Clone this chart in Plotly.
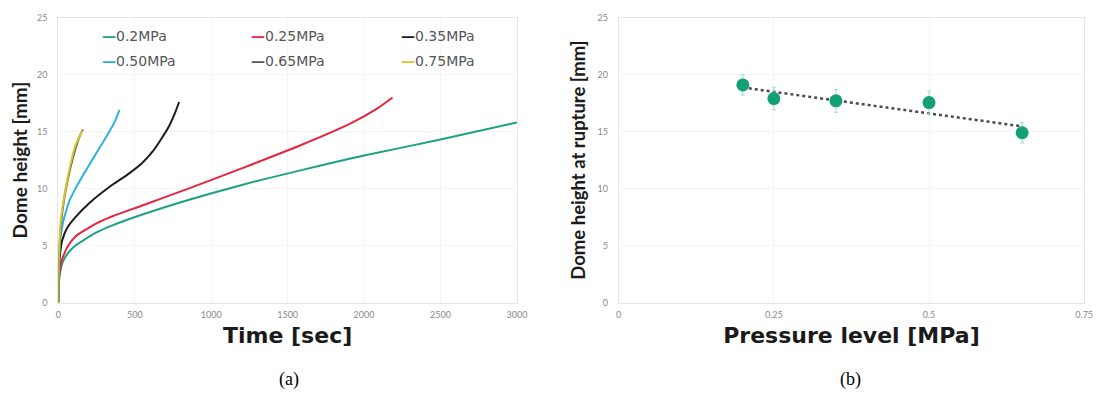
import numpy as np
import plotly.graph_objects as go

# ---- (a) dome height vs time, one curve per pressure level ----
series_names = ["0.2MPa", "0.25MPa", "0.35MPa", "0.50MPa", "0.65MPa", "0.75MPa"]
series_colors = ["#1aa283", "#e8243f", "#1c1c1c", "#2ab4dc", "#5a5a5a", "#d9c62c"]

t_02 = [0, 2, 6, 15, 30, 60, 112, 180, 250, 350, 545, 850, 1195, 1584, 2000, 2500, 3000]
h_02 = [0, 1.3, 2.1, 2.9, 3.6, 4.3, 5.0, 5.6, 6.15, 6.75, 7.7, 9.0, 10.3, 11.6, 12.9, 14.3, 15.8]

t_025 = [0, 2, 6, 15, 30, 60, 112, 180, 250, 350, 545, 850, 1195, 1584, 1909, 2082, 2186]
h_025 = [0, 1.5, 2.4, 3.3, 4.0, 4.9, 5.8, 6.4, 6.95, 7.55, 8.5, 10.0, 11.75, 13.8, 15.7, 17.0, 18.0]

t_035 = [0, 2, 6, 14, 26, 60, 112, 200, 329, 450, 545, 620, 675, 725, 762, 790]
h_035 = [0, 2.2, 3.4, 4.6, 5.5, 6.6, 7.5, 8.7, 10.1, 11.2, 12.2, 13.3, 14.4, 15.5, 16.6, 17.6]

t_050 = [0, 2, 6, 15, 30, 48, 75, 112, 165, 221, 280, 329, 370, 400]
h_050 = [0, 2.6, 4.2, 5.8, 7.0, 7.9, 9.0, 10.0, 11.25, 12.5, 13.8, 14.9, 15.9, 16.9]

t_065 = [0, 4, 18, 42, 75, 112, 140, 160]
h_065 = [0, 4.0, 7.0, 9.4, 11.6, 13.5, 14.6, 15.2]

t_075 = [0, 4, 15, 37, 69, 112, 140, 156]
h_075 = [0, 4.1, 7.0, 9.2, 11.5, 13.8, 14.6, 15.1]

times = [t_02, t_025, t_035, t_050, t_065, t_075]
heights = [h_02, h_025, h_035, h_050, h_065, h_075]

# ---- (b) dome height at rupture vs pressure ----
pressure = [0.2, 0.25, 0.35, 0.5, 0.65]
rupture_height = [19.1, 17.9, 17.7, 17.55, 14.9]
rupture_err = [0.9, 1.0, 1.0, 1.0, 0.9]

x_ticks_a = [0, 500, 1000, 1500, 2000, 2500, 3000]
y_ticks = [0, 5, 10, 15, 20, 25]
x_ticks_b = [0, 0.25, 0.5, 0.75]
x_ticklabels_b = ["0", "0.25", "0.5", "0.75"]

W, H = 1111, 397


def px_x(p):
    return p / W


def px_y(p):
    return 1 - p / H


fig = go.Figure()

# curves of panel (a)
for name, color, tx, hy in zip(series_names, series_colors, times, heights):
    fig.add_trace(go.Scatter(
        x=tx, y=hy, name=name, mode="lines",
        line=dict(color=color, width=2, shape="spline", smoothing=0.8),
        xaxis="x", yaxis="y", showlegend=False,
    ))

# linear trend of rupture height
slope, intercept = np.polyfit(pressure, rupture_height, 1)
trend_x = [min(pressure), max(pressure)]
trend_y = [slope * v + intercept for v in trend_x]
fig.add_trace(go.Scatter(
    x=trend_x, y=trend_y, mode="lines",
    line=dict(color="#4a4a4a", width=2.5, dash="dot"),
    xaxis="x2", yaxis="y2", showlegend=False,
))

# rupture points with error bars
fig.add_trace(go.Scatter(
    x=pressure, y=rupture_height, mode="markers",
    marker=dict(color="#14a077", size=13),
    error_y=dict(type="data", array=rupture_err, visible=True,
                 color="#9adcc6", thickness=1, width=2),
    xaxis="x2", yaxis="y2", showlegend=False,
))

tick_font = dict(family="Lato, Noto Sans, sans-serif", size=9, color="#8a8a8a")
xtitle_font = dict(family="DejaVu Sans, sans-serif", size=22, color="#1a1a1a")
frame = dict(showline=True, linecolor="#e4e4e4", linewidth=1, mirror=True,
             showgrid=True, gridcolor="#f5f5f5", zeroline=False, ticks="")

fig.update_layout(
    width=W, height=H,
    margin=dict(l=0, r=0, t=0, b=0),
    paper_bgcolor="white", plot_bgcolor="white",
    xaxis=dict(domain=[px_x(56), px_x(520)], range=[0, 3000],
               tickvals=x_ticks_a, tickfont=tick_font, anchor="y",
               ticklabelstandoff=4,
               title=dict(text="<b>Time [sec]</b>", font=xtitle_font, standoff=8),
               **frame),
    yaxis=dict(domain=[px_y(305), px_y(12)], range=[0, 25],
               tickvals=y_ticks, tickfont=tick_font, anchor="x",
               ticklabelstandoff=8,
               title=dict(text="<b>Dome height [mm]</b>",
                          font=dict(family="Lato, Noto Sans, sans-serif", size=19, color="#1a1a1a"),
                          standoff=4),
               **frame),
    xaxis2=dict(domain=[px_x(623), px_x(1094)], range=[0, 0.75],
                tickvals=x_ticks_b, ticktext=x_ticklabels_b, tickfont=tick_font,
                anchor="y2", ticklabelstandoff=4,
                title=dict(text="<b>Pressure level [MPa]</b>", font=xtitle_font, standoff=8),
                **frame),
    yaxis2=dict(domain=[px_y(305), px_y(12)], range=[0, 25],
                tickvals=y_ticks, tickfont=tick_font, anchor="x2",
                ticklabelstandoff=8,
                title=dict(text="<b>Dome height at rupture [mm]</b>",
                           font=dict(family="Lato, Noto Sans, sans-serif", size=18.5, color="#1a1a1a"),
                           standoff=6),
                **frame),
)

# legend of panel (a): two rows of three entries
legend_cols = [98, 249, 401]
legend_rows = [31, 57]
for i, (name, color) in enumerate(zip(series_names, series_colors)):
    fig.add_annotation(
        xref="paper", yref="paper",
        x=px_x(legend_cols[i % 3]), y=px_y(legend_rows[i // 3]),
        xanchor="left", yanchor="middle", showarrow=False,
        text=f"<b><span style='color:{color}'>—</span></b>{name}",
        font=dict(family="DejaVu Sans, sans-serif", size=14, color="#555555"),
    )

# panel captions
for label, cx in [("(a)", 289), ("(b)", 858)]:
    fig.add_annotation(
        xref="paper", yref="paper", x=px_x(cx), y=px_y(384),
        xanchor="center", yanchor="middle", showarrow=False, text=label,
        font=dict(family="Liberation Serif, Times New Roman, serif", size=18, color="#000000"),
    )

fig.write_html("out.html")
